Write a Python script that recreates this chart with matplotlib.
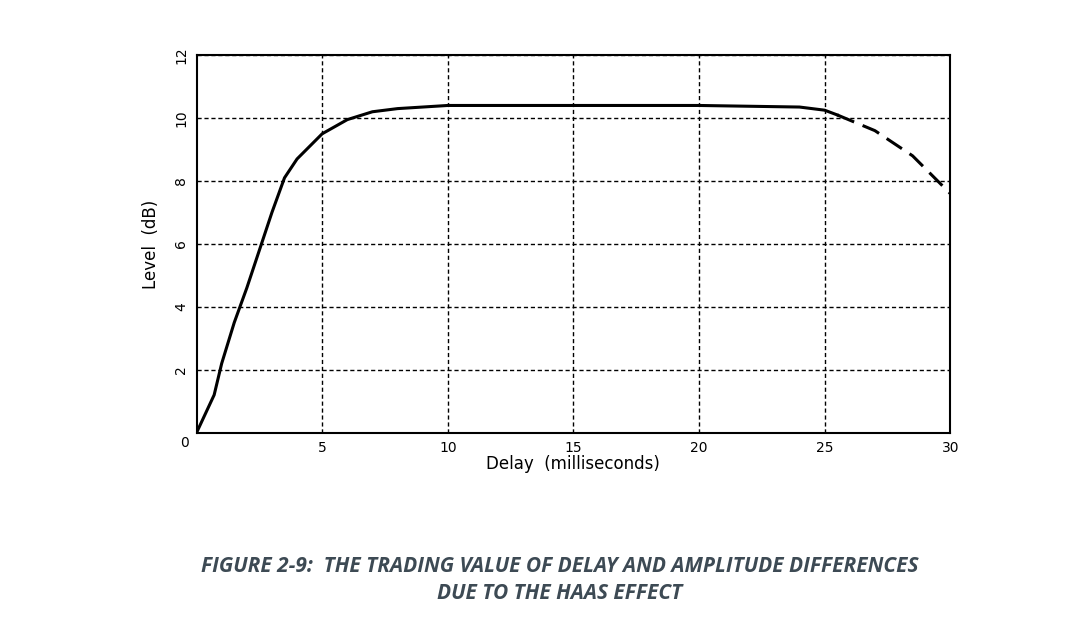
import matplotlib
matplotlib.use("Agg")
import matplotlib.pyplot as plt

solid_x = [0, 0.7, 1, 1.5, 2, 2.5, 3, 3.5, 4, 5, 6, 7, 8, 10, 15, 20, 24, 25, 25.5]
solid_y = [0, 1.2, 2.2, 3.5, 4.6, 5.8, 7.0, 8.1, 8.7, 9.5, 9.95, 10.2, 10.3, 10.4, 10.4, 10.4, 10.35, 10.25, 10.1]
dash_x = [25.5, 27, 28.5, 30]
dash_y = [10.1, 9.6, 8.8, 7.6]
xticks = [5, 10, 15, 20, 25, 30]
yticks = [2, 4, 6, 8, 10, 12]

fig = plt.figure(figsize=(10.86, 6.41), dpi=100)
ax = fig.add_axes([0.181, 0.325, 0.694, 0.589])
ax.plot(solid_x, solid_y, color='black', lw=2.2)
ax.plot(dash_x, dash_y, color='black', lw=2.2, dashes=(6, 3))
ax.set_xlim(0, 30)
ax.set_ylim(0, 12)
ax.set_xticks(xticks)
ax.set_yticks(yticks)
ax.grid(True, color='black', ls=(0, (3, 2)), lw=1)
ax.tick_params(length=0, labelsize=10, pad=6)
for lab in ax.get_yticklabels():
    lab.set_rotation(90)
    lab.set_va('center')
ax.text(-0.3, -0.1, '0', ha='right', va='top', fontsize=10)
for s in ax.spines.values():
    s.set_linewidth(1.5)
ax.set_xlabel('Delay  (milliseconds)', fontsize=12, labelpad=0)
ax.set_ylabel('Level  (dB)', fontsize=12, labelpad=10)
cap = "FIGURE 2-9:  THE TRADING VALUE OF DELAY AND AMPLITUDE DIFFERENCES\nDUE TO THE HAAS EFFECT"
fig.text(0.515, 0.095, cap, ha='center', va='center', fontsize=15, fontweight='bold',
         fontstyle='italic', color='#3d4a54', family='Open Sans', linespacing=1.4)
fig.savefig('out.png', dpi=100)
